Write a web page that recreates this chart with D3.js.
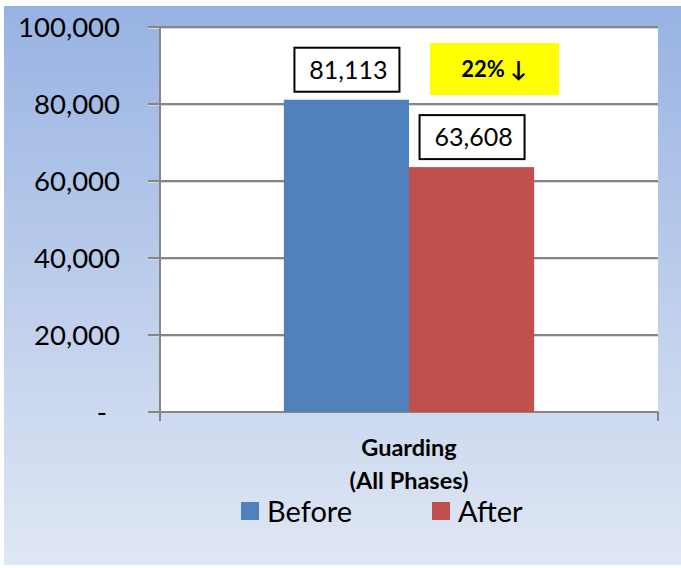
<!DOCTYPE html>
<html><head><meta charset="utf-8">
<script src="https://cdn.jsdelivr.net/npm/d3@7"></script>
<style>body{margin:0;background:#fff}svg{display:block}</style>
</head><body>
<script>
const categories = ["Guarding\n(All Phases)"];
const seriesNames = ["Before", "After"];
const seriesValues = [[81113], [63608]];
const seriesColors = ["#4f81bd", "#c0504d"];
const yTicks = [0, 20000, 40000, 60000, 80000, 100000];
const dataLabels = ["81,113", "63,608"];
const changeLabel = "22% \u2193";

const W = 681, H = 568;
const svg = d3.select("body").append("svg").attr("width", W).attr("height", H);
const defs = svg.append("defs");
const grad = defs.append("linearGradient").attr("id","bg").attr("x1",0).attr("y1",0).attr("x2",0).attr("y2",1);
grad.append("stop").attr("offset","0%").attr("stop-color","#98b3e2");
grad.append("stop").attr("offset","100%").attr("stop-color","#e0e7f4");
svg.append("rect").attr("x",4).attr("y",6).attr("width",W-4).attr("height",559).attr("fill","url(#bg)");

const m = {left:160, right:658, top:27, bottom:412};
const x0 = d3.scaleBand().domain(categories).range([m.left, m.right]).paddingInner(0).paddingOuter(0);
const x1 = d3.scaleBand().domain(seriesNames).range([0, x0.bandwidth()]).paddingInner(0).paddingOuter(0.99);
const y = d3.scaleLinear().domain([0, 100000]).range([m.bottom, m.top]);

svg.append("rect").attr("x",m.left).attr("y",m.top).attr("width",m.right-m.left).attr("height",m.bottom-m.top).attr("fill","#fff");

// gridlines
const gridG = svg.append("g");
yTicks.forEach(t => {
  gridG.append("line").attr("x1",m.left-12).attr("x2",m.right).attr("y1",y(t)+1.5).attr("y2",y(t)+1.5).attr("stroke","#d9d9d9").attr("stroke-width",1);
  gridG.append("line").attr("x1",m.left-12).attr("x2",m.right).attr("y1",y(t)).attr("y2",y(t)).attr("stroke","#868686").attr("stroke-width",2);
});

// y axis labels
const fmt = d3.format(",");
const yAxis = d3.axisLeft(y).tickValues(yTicks).tickSize(0).tickPadding(0).tickFormat(d => d === 0 ? "-" : fmt(d));
const yg = svg.append("g").attr("transform", `translate(${m.left-40},0)`).call(yAxis);
yg.select(".domain").remove();
yg.selectAll("text").attr("font-family","Lato, sans-serif").attr("font-size",27.5).attr("fill","#000").attr("dy","0.36em");
yg.selectAll(".tick").filter(d => d === 0).select("text").attr("x",-13);

// bars
categories.forEach((c, ci) => {
  seriesNames.forEach((s, si) => {
    svg.append("rect").attr("x", x0(c) + x1(s)).attr("y", y(seriesValues[si][ci]))
      .attr("width", x1.bandwidth()).attr("height", m.bottom - y(seriesValues[si][ci]))
      .attr("fill", seriesColors[si]);
  });
});

// axes lines
svg.append("line").attr("x1",m.left).attr("x2",m.left).attr("y1",m.top).attr("y2",m.bottom+9).attr("stroke","#868686").attr("stroke-width",2);
svg.append("line").attr("x1",m.right).attr("x2",m.right).attr("y1",m.bottom).attr("y2",m.bottom+9).attr("stroke","#868686").attr("stroke-width",2);

// data labels
const labelBoxes = [
  {cx: x0(categories[0]) + x1("Before") + x1.bandwidth()/2, val: seriesValues[0][0], text: dataLabels[0]},
  {cx: x0(categories[0]) + x1("After") + x1.bandwidth()/2, val: seriesValues[1][0], text: dataLabels[1]}
];
labelBoxes.forEach(b => {
  const by = y(b.val) - 8;
  svg.append("rect").attr("x", b.cx - 52).attr("y", by - 44).attr("width",105).attr("height",44)
    .attr("fill","#fff").attr("stroke","#000").attr("stroke-width",2);
  svg.append("text").attr("x", b.cx + 2).attr("y", by - 22).attr("dy","0.36em").attr("text-anchor","middle")
    .attr("font-family","Lato, sans-serif").attr("font-size",25).attr("fill","#000").text(b.text);
});

// change callout
svg.append("rect").attr("x",430).attr("y",43).attr("width",129).attr("height",52).attr("fill","#ffff00");
svg.append("text").attr("x",494).attr("y",69).attr("dy","0.36em").attr("text-anchor","middle")
  .attr("font-family","Lato, sans-serif").attr("font-weight","bold").attr("font-size",22).attr("fill","#000").text(changeLabel);

// category labels
categories.forEach(c => {
  const lines = c.split("\n");
  lines.forEach((ln, i) => {
    svg.append("text").attr("x", x0(c) + x0.bandwidth()/2).attr("y", 448 + i*33).attr("dy","0.36em")
      .attr("text-anchor","middle").attr("font-family","Lato, sans-serif").attr("font-weight","bold")
      .attr("font-size",23.5).attr("fill","#000").text(ln);
  });
});

// legend
const legX = [241, 432];
seriesNames.forEach((s, i) => {
  svg.append("rect").attr("x", legX[i]).attr("y", 502).attr("width",18).attr("height",18).attr("fill",seriesColors[i]);
  svg.append("text").attr("x", legX[i] + 26).attr("y", 512).attr("dy","0.36em")
    .attr("font-family","Lato, sans-serif").attr("font-size",29).attr("fill","#000").text(s);
});
</script>
</body></html>
